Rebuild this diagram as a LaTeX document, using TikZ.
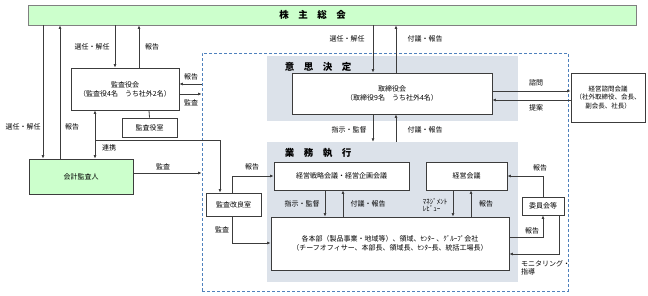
\documentclass[tikz,border=0pt]{standalone}
\usepackage{fontspec}
\setmainfont{Noto Sans CJK JP}
\usetikzlibrary{arrows.meta,positioning,calc}
\definecolor{kgreen}{RGB}{204,255,204}
\definecolor{kgray}{RGB}{220,226,234}
\definecolor{kblue}{RGB}{79,129,189}
\definecolor{kline}{RGB}{60,60,60}
\begin{document}
\begin{tikzpicture}[x=1pt,y=-1pt,>={Latex[length=3.5pt,width=3pt]},
  box/.style={draw=kline,fill=white,line width=0.8pt,inner sep=0pt,align=center,font=\fontsize{7}{9}\selectfont},
  greenbox/.style={box,draw=gray,fill=kgreen},
  region/.style={fill=kgray,inner sep=0pt},
  grp/.style={draw=kblue,densely dashed,line width=0.8pt,inner sep=0pt},
  lbl/.style={inner sep=0pt,font=\fontsize{7}{8.5}\selectfont,align=left},
  ttl/.style={inner sep=0pt,font=\fontsize{9.5}{10}\selectfont\bfseries},
  conn/.style={draw=kline,line width=0.8pt}]
  \useasboundingbox (0,0) rectangle (648,295);
  % 枠
  \node[grp,minimum width=366pt,minimum height=238pt] (group) at (385,172) {};
  \node[region,minimum width=251pt,minimum height=65pt] (ishi) at (392.5,88.5) {};
  \node[region,minimum width=251pt,minimum height=140pt] (gyomu) at (392.5,212) {};
  \node[ttl] (ishittl) at (318,67) {意\quad 思\quad 決\quad 定};
  \node[ttl] (gyomuttl) at (318,153) {業\quad 務\quad 執\quad 行};
  % 箱
  \node[greenbox,draw=gray,minimum width=608pt,minimum height=20pt] (soukai) at (332,15) {};
  \node[ttl] (soukaittl) at (312.5,15) {株\quad 主\quad 総\quad 会};
  \node[box,minimum width=108pt,minimum height=42pt] (kansayaku) at (125,89) {監査役会\\（監査役4名　うち社外2名）};
  \node[box,minimum width=55pt,minimum height=19pt] (kansashitsu) at (149.5,127.5) {監査役室};
  \node[greenbox,draw=kline,minimum width=104pt,minimum height=35pt] (kaikei) at (81,176.5) {会計監査人};
  \node[box,minimum width=200pt,minimum height=41pt] (torishimari) at (392,93.5) {取締役会\\（取締役9名　うち社外4名）};
  \node[box,minimum width=74pt,minimum height=49pt,font=\fontsize{6.5}{8.5}\selectfont] (shimon) at (608,97.5) {経営諮問会議\\（社外取締役、会長、\\副会長、社長）};
  \node[box,minimum width=135pt,minimum height=28pt] (senryaku) at (341.5,176) {経営戦略会議・経営企画会議};
  \node[box,minimum width=81pt,minimum height=28pt] (keiei) at (466.5,176) {経営会議};
  \node[box,minimum width=238pt,minimum height=53pt] (honbu) at (390,243.5) {各本部（製品事業・地域等）、領域、ｾﾝﾀｰ 、ｸﾞﾙｰﾌﾟ会社\\（チーフオフィサー、本部長、領域長、ｾﾝﾀｰ長、統括工場長）};
  \node[box,minimum width=55pt,minimum height=23pt] (kaizen) at (233.5,204.5) {監査改良室};
  \node[box,minimum width=42pt,minimum height=18pt] (iinkai) at (543,206) {委員会等};
  % 株主総会との線
  \draw[conn,->] (soukai.south -| 43,0) -- (kaikei.north -| 43,0);
  \draw[conn,->] (kaikei.north -| 60,0) -- (soukai.south -| 60,0);
  \draw[conn,->] (soukai.south -| 115,0) -- (kansayaku.north -| 115,0);
  \draw[conn,->] (kansayaku.north -| 139,0) -- (soukai.south -| 139,0);
  \draw[conn,->] (soukai.south -| 373,0) -- (torishimari.north -| 373,0);
  \draw[conn,->] (torishimari.north -| 396,0) -- (soukai.south -| 396,0);
  \node[lbl] (l1) at (23,127) {選任・解任};
  \node[lbl] (l2) at (72,127) {報告};
  \node[lbl] (l3) at (92,47) {選任・解任};
  \node[lbl] (l4) at (152,47) {報告};
  \node[lbl] (l5) at (347,39) {選任・解任};
  \node[lbl] (l6) at (425,39) {付議・報告};
  % 監査役会まわり
  \draw[conn] (kansayaku.south -| 149,0) -- (kansashitsu.north);
  \draw[conn,->] (group.west |- 0,84) -- (kansayaku.east |- 0,84);
  \draw[conn,->] (kansayaku.east |- 0,94) -- (group.west |- 0,94);
  \node[lbl] (l7) at (191,77) {報告};
  \node[lbl] (l8) at (191,103) {監査};
  \coordinate (renkei) at (95,140);
  \draw[conn,->] (renkei) -- (kansayaku.south -| renkei);
  \draw[conn,->] (renkei) -- (kaikei.north -| renkei);
  \draw[conn,->] (renkei) -- (220,140) -- (kaizen.north -| 220,0);
  \node[lbl] (l9) at (109,148) {連携};
  \draw[conn,->] (kaikei.east |- 0,173) -- (group.west |- 0,173);
  \node[lbl] (l10) at (163,167) {監査};
  % 取締役会まわり
  \draw[conn,->] (torishimari.south -| 373,0) -- (gyomu.north -| 373,0);
  \draw[conn,->] (gyomu.north -| 396,0) -- (torishimari.south -| 396,0);
  \node[lbl] (l11) at (349,130) {指示・監督};
  \node[lbl] (l12) at (425,130) {付議・報告};
  \draw[conn,->] (torishimari.east |- 0,91) -- (shimon.west |- 0,91);
  \draw[conn,->] (shimon.west |- 0,100) -- (torishimari.east |- 0,100);
  \node[lbl] (l13) at (536,83) {諮問};
  \node[lbl] (l14) at (536,108) {提案};
  % 業務執行
  \draw[conn,->] (kaizen.north -| 232,0) |- (senryaku.west);
  \draw[conn,->] (kaizen.south -| 232,0) |- (honbu.west |- 0,243);
  \node[lbl] (l15) at (252,167) {報告};
  \node[lbl] (l16) at (222,230) {監査};
  \draw[conn,->] (senryaku.south -| 325,0) -- (honbu.north -| 325,0);
  \draw[conn,->] (honbu.north -| 343,0) -- (senryaku.south -| 343,0);
  \draw[conn,->] (keiei.south -| 453,0) -- (honbu.north -| 453,0);
  \draw[conn,->] (honbu.north -| 471,0) -- (keiei.south -| 471,0);
  \node[lbl] (l17) at (302,204) {指示・監督};
  \node[lbl] (l18) at (368,204) {付議・報告};
  \node[lbl,font=\fontsize{7}{7.5}\selectfont] (l19) at (435,205) {ﾏﾈｼﾞﾒﾝﾄ\\ﾚﾋﾞｭｰ};
  \node[lbl] (l20) at (486,204) {報告};
  % 委員会等
  \draw[conn,->] (iinkai.north) |- (keiei.east);
  \draw[conn,->] (honbu.east |- 0,237) -| (iinkai.south);
  \draw[conn,->] (iinkai.south -| 559,0) |- (honbu.east |- 0,254);
  \node[lbl] (l21) at (540,168) {報告};
  \node[lbl] (l22) at (532,231) {報告};
  \node[lbl,anchor=west] (l23) at (521,268) {モニタリング・\\指導};
\end{tikzpicture}
\end{document}
